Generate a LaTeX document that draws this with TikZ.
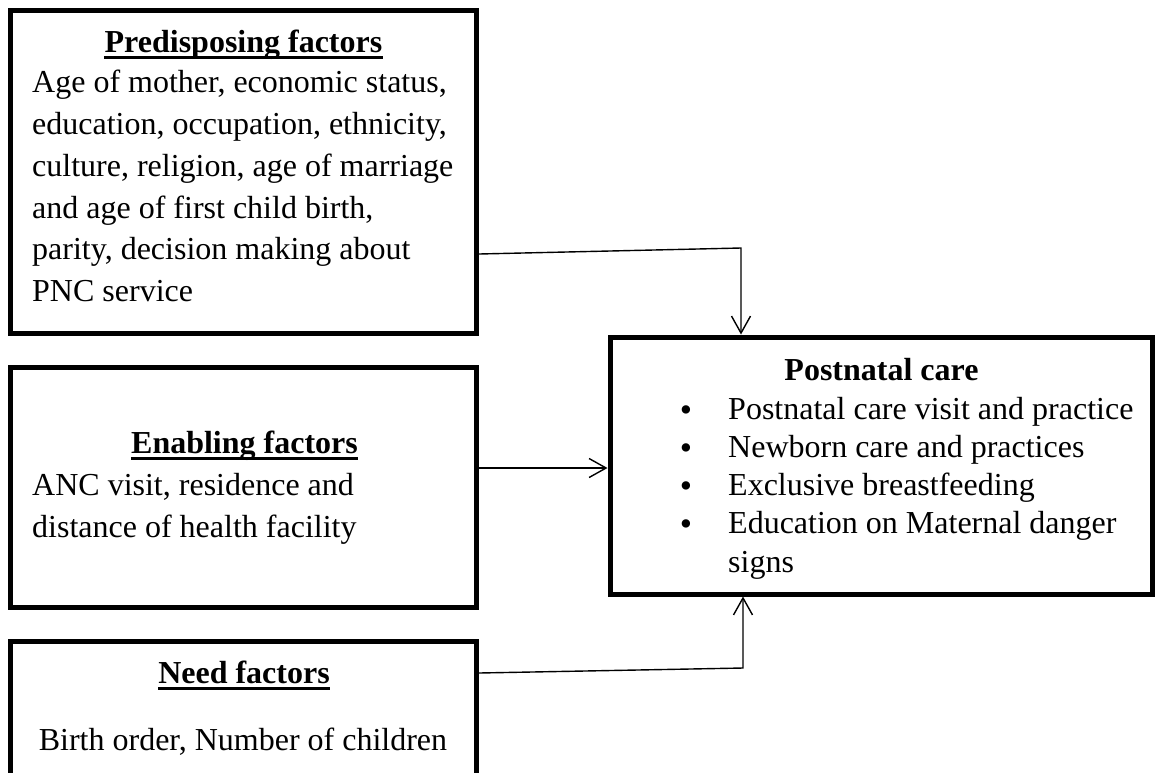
\documentclass[tikz,border=0pt]{standalone}
\usepackage{fontspec}
\setmainfont{Liberation Serif}
\usetikzlibrary{arrows.meta}
\tikzset{
  box/.style={draw, line width=5pt, inner sep=0pt, minimum width=466pt},
  txt/.style={anchor=base west, inner sep=0pt, font=\fontsize{32}{38}\selectfont},
  ctxt/.style={anchor=base, inner sep=0pt, font=\fontsize{32}{38}\selectfont},
  bul/.style={anchor=base, inner sep=0pt, text height=14pt, text depth=0pt, font=\fontsize{35}{38}\selectfont},
  head/.style={anchor=base, inner sep=0pt, font=\fontsize{32}{38}\selectfont\bfseries},
  uline/.style={line width=2.6pt},
  conn/.style={line width=1.4pt, -{Straight Barb[length=17pt,width=19pt,line width=1.4pt]}}
}
\begin{document}
\begin{tikzpicture}[x=1pt,y=-1pt]
\useasboundingbox[fill=white] (0,0) rectangle (1155,772);
% boxes
\node[box, minimum height=323pt] (pre) at (243.5,172) {};
\node[box, minimum height=239.5pt] (en) at (243.5,487.25) {};
\node[box, minimum height=159pt] (need) at (243.5,720.5) {};
\node[box, minimum width=542pt, minimum height=257pt] (post) at (881,465.5) {};
% predisposing
\node[head] (hp) at (243.5,52) {Predisposing factors};
\draw[uline] ([yshift=-5.5pt]hp.base west) -- ([yshift=-5.5pt]hp.base east);
\node[txt] (p1) at (32,92.7) {Age of mother, economic status,};
\node[txt] (p2) at (32,134.5) {education, occupation, ethnicity,};
\node[txt] (p3) at (32,176.3) {culture, religion, age of marriage};
\node[txt] (p4) at (32,218.1) {and age of first child birth,};
\node[txt] (p5) at (32,259.9) {parity, decision making about};
\node[txt] (p6) at (32,301.7) {PNC service};
% enabling
\node[head] (he) at (244.5,453) {Enabling factors};
\draw[uline] ([yshift=-5.5pt]he.base west) -- ([yshift=-5.5pt]he.base east);
\node[txt] (e1) at (32,495) {ANC visit, residence and};
\node[txt] (e2) at (32,537) {distance of health facility};
% need
\node[head] (hn) at (244,683) {Need factors};
\draw[uline] ([yshift=-5.5pt]hn.base west) -- ([yshift=-5.5pt]hn.base east);
\node[ctxt] (n1) at (243,750) {Birth order, Number of children};
% postnatal
\node[head] (hc) at (881.5,380) {Postnatal care};
\node[bul] (b1) at (686,421) {•};
\node[bul] (b2) at (686,459.3) {•};
\node[bul] (b3) at (686,497.6) {•};
\node[bul] (b4) at (686,535.9) {•};
\node[txt] (c1) at (728,419) {Postnatal care visit and practice};
\node[txt] (c2) at (728,457.3) {Newborn care and practices};
\node[txt] (c3) at (728,495.6) {Exclusive breastfeeding};
\node[txt] (c4) at (728,533.9) {Education on Maternal danger};
\node[txt] (c5) at (728,572.2) {signs};
% connectors
\coordinate (ya) at (0,254);
\coordinate (ka) at (741,248);
\draw[conn] (pre.east |- ya) -- (ka) -- (ka |- post.north);
\coordinate (yb) at (0,468);
\draw[conn] (en.east |- yb) -- (post.west |- yb);
\coordinate (yc) at (0,673);
\coordinate (kc) at (743,668);
\draw[conn] (need.east |- yc) -- (kc) -- (kc |- post.south);
\end{tikzpicture}
\end{document}
